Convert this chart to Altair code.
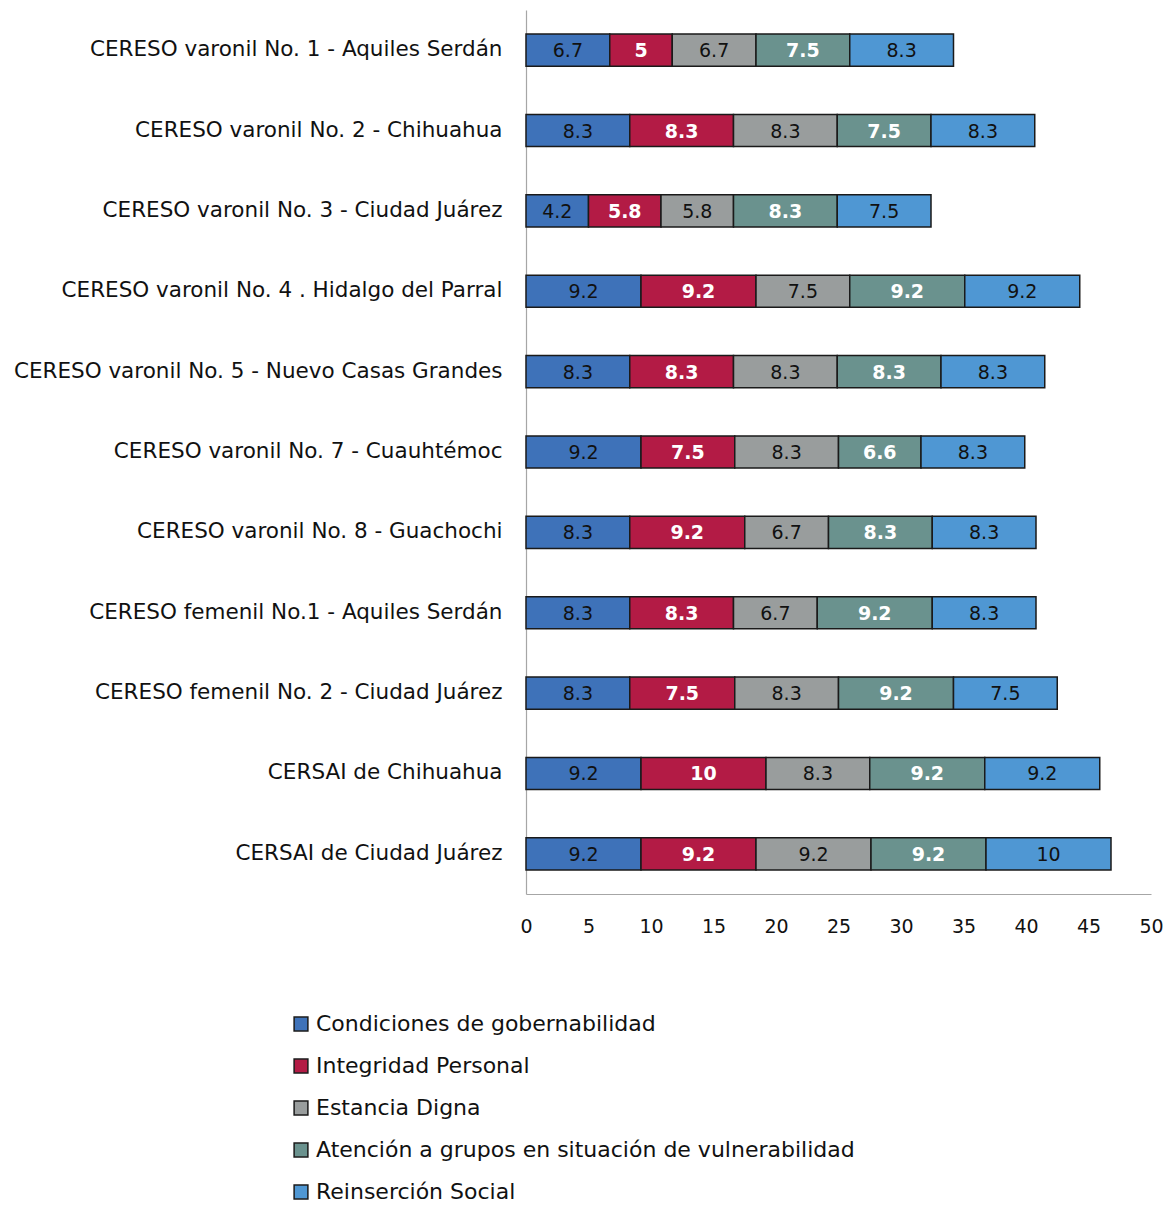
import altair as alt
import pandas as pd

facilities = [
    "CERESO varonil No. 1 - Aquiles Serdán",
    "CERESO varonil No. 2 - Chihuahua",
    "CERESO varonil No. 3 - Ciudad Juárez",
    "CERESO varonil No. 4 . Hidalgo del Parral",
    "CERESO varonil No. 5 - Nuevo Casas Grandes",
    "CERESO varonil No. 7 - Cuauhtémoc",
    "CERESO varonil No. 8 - Guachochi",
    "CERESO femenil No.1 - Aquiles Serdán",
    "CERESO femenil No. 2 - Ciudad Juárez",
    "CERSAI de Chihuahua",
    "CERSAI de Ciudad Juárez",
]

categories = [
    "Condiciones de gobernabilidad",
    "Integridad Personal",
    "Estancia Digna",
    "Atención a grupos en situación de vulnerabilidad",
    "Reinserción Social",
]

colors = ["#3E72B9", "#B31B45", "#999D9D", "#6A928E", "#4F97D3"]

# bar lengths as drawn
gobernabilidad = [6.7, 8.3, 5.0, 9.2, 8.3, 9.2, 8.3, 8.3, 8.3, 9.2, 9.2]
integridad = [5.0, 8.3, 5.8, 9.2, 8.3, 7.5, 9.2, 8.3, 8.4, 10.0, 9.2]
estancia = [6.7, 8.3, 5.8, 7.5, 8.3, 8.3, 6.7, 6.7, 8.3, 8.3, 9.2]
atencion = [7.5, 7.5, 8.3, 9.2, 8.3, 6.6, 8.3, 9.2, 9.2, 9.2, 9.2]
reinsercion = [8.3, 8.3, 7.5, 9.2, 8.3, 8.3, 8.3, 8.3, 8.3, 9.2, 10.0]

# data labels as printed
gobernabilidad_lbl = ["6.7", "8.3", "4.2", "9.2", "8.3", "9.2", "8.3", "8.3", "8.3", "9.2", "9.2"]
integridad_lbl = ["5", "8.3", "5.8", "9.2", "8.3", "7.5", "9.2", "8.3", "7.5", "10", "9.2"]
estancia_lbl = ["6.7", "8.3", "5.8", "7.5", "8.3", "8.3", "6.7", "6.7", "8.3", "8.3", "9.2"]
atencion_lbl = ["7.5", "7.5", "8.3", "9.2", "8.3", "6.6", "8.3", "9.2", "9.2", "9.2", "9.2"]
reinsercion_lbl = ["8.3", "8.3", "7.5", "9.2", "8.3", "8.3", "8.3", "8.3", "7.5", "9.2", "10"]

x_ticks = [0, 5, 10, 15, 20, 25, 30, 35, 40, 45, 50]

series = [gobernabilidad, integridad, estancia, atencion, reinsercion]
series_lbl = [gobernabilidad_lbl, integridad_lbl, estancia_lbl, atencion_lbl, reinsercion_lbl]
light_text = [False, True, False, True, False]

rows = []
for i, fac in enumerate(facilities):
    for j, cat in enumerate(categories):
        rows.append({
            "facility": fac,
            "category": cat,
            "order": j,
            "value": series[j][i],
            "label": series_lbl[j][i],
            "light": light_text[j],
        })
df = pd.DataFrame(rows)

FONT = "DejaVu Sans"

base = alt.Chart(df)

y_enc = alt.Y(
    "facility:N",
    sort=facilities,
    title=None,
    scale=alt.Scale(paddingInner=0.6, paddingOuter=0.3),
    axis=alt.Axis(
        labelFontSize=21.5,
        labelFont=FONT,
        labelColor="#111111",
        labelPadding=24,
        labelLimit=600,
        ticks=False,
        domainColor="#A6A6A6",
        domainWidth=1.2,
        grid=False,
    ),
)

bars = base.mark_bar(stroke="#1a1a1a", strokeWidth=1.5).encode(
    y=y_enc,
    x=alt.X(
        "value:Q",
        stack="zero",
        title=None,
        scale=alt.Scale(domain=[0, 50], nice=False),
        axis=alt.Axis(
            values=x_ticks,
            labelFontSize=19,
            labelFont=FONT,
            labelColor="#111111",
            labelPadding=23,
            ticks=False,
            grid=False,
            domainColor="#A6A6A6",
            domainWidth=1.2,
            labelFlush=False,
        ),
    ),
    color=alt.Color(
        "category:N",
        sort=categories,
        scale=alt.Scale(domain=categories, range=colors),
        legend=alt.Legend(
            title=None,
            orient="none",
            direction="vertical",
            legendX=-236,
            legendY=1003,
            symbolType="square",
            symbolSize=190,
            symbolStrokeColor="#1a1a1a",
            symbolStrokeWidth=1.5,
            symbolOpacity=1,
            labelFont=FONT,
            labelFontSize=22,
            labelColor="#111111",
            labelOffset=4,
            labelLimit=800,
            rowPadding=20,
            padding=0,
        ),
    ),
    order=alt.Order("order:Q"),
)

text_base = base.transform_stack(
    stack="value",
    groupby=["facility"],
    as_=["x0", "x1"],
    sort=[alt.SortField("order", order="ascending")],
).transform_calculate(mid="(datum.x0 + datum.x1) / 2")

text_dark = text_base.transform_filter("!datum.light").mark_text(
    font=FONT, fontSize=19, color="#111111", baseline="middle", dy=1
).encode(
    y=alt.Y("facility:N", sort=facilities),
    x=alt.X("mid:Q"),
    text="label:N",
)

text_light = text_base.transform_filter("datum.light").mark_text(
    font=FONT, fontSize=19, fontWeight="bold", color="white", baseline="middle", dy=1
).encode(
    y=alt.Y("facility:N", sort=facilities),
    x=alt.X("mid:Q"),
    text="label:N",
)

chart = alt.layer(bars, text_dark, text_light).properties(
    width=625,
    height=884,
    autosize=alt.AutoSizeParams(type="none"),
    padding={"left": 518, "top": 2, "right": 13, "bottom": 309},
).configure(background="white").configure_view(stroke=None)

chart.save("out.html", embed_options={"renderer": "svg", "actions": False})
